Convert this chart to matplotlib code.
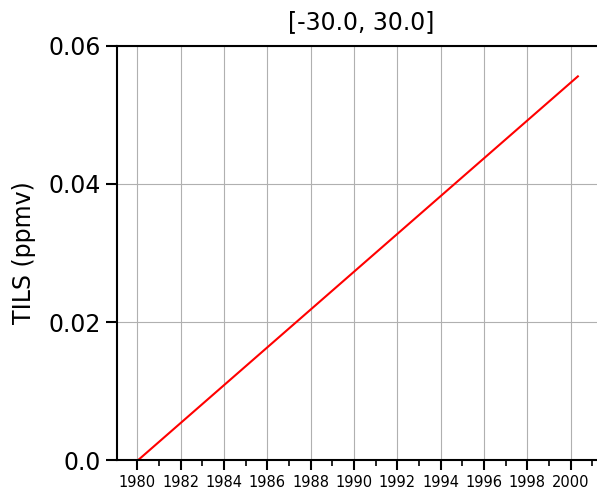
import matplotlib
matplotlib.use("Agg")
import matplotlib.pyplot as plt
from matplotlib.ticker import MultipleLocator, FixedLocator

years = [1980.04, 2000.33]
tils = [0.0, 0.0556]
xticks = list(range(1980, 2001, 2))
yticks = [0.0, 0.02, 0.04, 0.06]
yticklabels = ["0.0", "0.02", "0.04", "0.06"]
title = "[-30.0, 30.0]"

fig = plt.figure(figsize=(5.97, 4.91), dpi=100)
ax = fig.add_axes([117/597, 31/491, 488.4/597, (460-46)/491])
ax.plot(years, tils, color="red", lw=1.5)
ax.set_xlim(1979.06, 2001.6)
ax.set_ylim(0, 0.06)
ax.xaxis.set_major_locator(FixedLocator(xticks))
ax.xaxis.set_minor_locator(MultipleLocator(1))
ax.set_yticks(yticks)
ax.set_yticklabels(yticklabels)
ax.set_xticklabels([str(x) for x in xticks])
ax.tick_params(axis="x", which="major", labelsize=10.5, length=7, width=1.5, direction="out")
ax.tick_params(axis="x", which="minor", length=4, width=1.2, direction="out")
ax.tick_params(axis="y", which="major", labelsize=17, length=8, width=1.5, direction="out")
for s in ["left", "bottom", "top"]:
    ax.spines[s].set_linewidth(1.5)
ax.spines["right"].set_visible(False)
ax.grid(True, which="major", color="#b0b0b0", lw=0.8)
ax.set_axisbelow(True)
ax.set_ylabel("TILS (ppmv)", fontsize=17, labelpad=9)
ax.set_title(title, fontsize=17, pad=12)
fig.savefig("out.png", dpi=100)
